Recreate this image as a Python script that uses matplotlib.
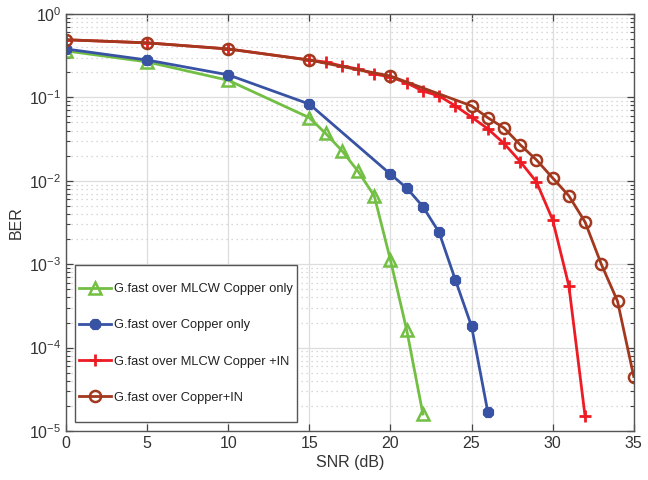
import matplotlib
matplotlib.use("Agg")
import matplotlib.pyplot as plt
from matplotlib.ticker import LogLocator, NullFormatter, FuncFormatter
from matplotlib.patches import Rectangle
import numpy as np

plt.rcParams['font.family'] = ['Liberation Sans', 'DejaVu Sans']
plt.rcParams['mathtext.fontset'] = 'custom'
plt.rcParams['mathtext.rm'] = 'Liberation Sans'
plt.rcParams['mathtext.it'] = 'Liberation Sans:italic'
plt.rcParams['mathtext.default'] = 'regular'

snr_green = [0, 5, 10, 15, 16, 17, 18, 19, 20, 21, 22]
ber_green = [0.36, 0.266, 0.16, 0.057, 0.037, 0.023, 0.013, 0.0066, 0.00112, 0.000163, 1.6e-5]

snr_blue = [0, 5, 10, 15, 20, 21, 22, 23, 24, 25, 26]
ber_blue = [0.38, 0.28, 0.186, 0.083, 0.012, 0.0082, 0.0049, 0.0024, 0.00065, 0.00018, 1.7e-5]

snr_red = [0, 5, 10, 15, 16, 17, 18, 19, 20, 21, 22, 23, 24, 25, 26, 27, 28, 29, 30, 31, 32]
ber_red = [0.49, 0.45, 0.38, 0.28, 0.265, 0.238, 0.219, 0.19, 0.176, 0.149, 0.119, 0.104,
           0.079, 0.058, 0.042, 0.028, 0.017, 0.0097, 0.0034, 0.00055, 1.5e-5]

snr_brown = [0, 5, 10, 15, 20, 25, 26, 27, 28, 29, 30, 31, 32, 33, 34, 35]
ber_brown = [0.49, 0.45, 0.38, 0.28, 0.18, 0.079, 0.057, 0.043, 0.027, 0.0178, 0.0108,
             0.0066, 0.0032, 0.001, 0.00036, 4.5e-5]

labels = ["G.fast over MLCW Copper only", "G.fast over Copper only",
          "G.fast over MLCW Copper +IN", "G.fast over Copper+IN"]

c_green = "#72BF44"
c_blue = "#3953A4"
c_red = "#ED1C24"
c_brown = "#A2381E"

fig = plt.figure(figsize=(6.48, 4.8), dpi=100)
ax = fig.add_axes([0.102, 0.102, 0.876, 0.869])

lw = 2.0
ax.semilogy(snr_green, ber_green, color=c_green, lw=lw, marker='^', ms=9,
            mfc='none', mec=c_green, mew=1.8, label=labels[0])
ax.semilogy(snr_blue, ber_blue, color=c_blue, lw=lw, marker=(8, 2, 0), ms=8,
            mfc=c_blue, mec=c_blue, mew=3.2, label=labels[1])
ax.semilogy(snr_red, ber_red, color=c_red, lw=lw, marker='+', ms=9,
            mec=c_red, mew=2.0, label=labels[2])
ax.semilogy(snr_brown, ber_brown, color=c_brown, lw=lw, marker='o', ms=8,
            mfc='none', mec=c_brown, mew=1.8, label=labels[3])

ax.set_xlim(0, 35)
ax.set_ylim(1e-5, 1)
ax.set_xticks(range(0, 36, 5))
ax.yaxis.set_major_locator(LogLocator(base=10, numticks=10))
ax.yaxis.set_major_formatter(FuncFormatter(
    lambda v, p: r'$10^{%d}$' % int(round(np.log10(v))) if v < 0.5 else r'$10^{0}$'))
ax.yaxis.set_minor_locator(LogLocator(base=10, subs=range(2, 10), numticks=100))
ax.yaxis.set_minor_formatter(NullFormatter())

ax.grid(True, which='major', color='#DDDDDD', lw=0.9, ls='-')
ax.grid(True, which='minor', axis='y', color='#CCCCCC', lw=0.9, ls=(0, (1, 3)))
ax.set_axisbelow(True)

ax.tick_params(which='both', direction='in', top=True, right=True, colors='#444444',
               labelcolor='#333333', labelsize=11.5)
ax.tick_params(which='major', length=5, width=0.9)
ax.tick_params(which='minor', length=3, width=0.8)
for s in ax.spines.values():
    s.set_color('#555555')
    s.set_linewidth(1.0)

ax.set_xlabel("SNR (dB)", fontsize=11.5, color='#333333', labelpad=3)
ax.set_ylabel("BER", fontsize=11.5, color='#333333', labelpad=4)

# legend frame drawn as a rectangle (axes coords), legend itself frameless
frame = Rectangle((0.0158, 0.0216), 0.4067 - 0.0158, 0.398 - 0.0216,
                  transform=ax.transAxes, facecolor='white', edgecolor='#555555',
                  lw=1.0, zorder=4)
ax.add_patch(frame)

leg = ax.legend(loc='center', bbox_to_anchor=(0.2113, 0.2098), fontsize=9.3,
                labelspacing=1.87, handlelength=2.5, handletextpad=0.25,
                borderpad=0.0, frameon=False, borderaxespad=0)
leg.set_zorder(5)
for t in leg.get_texts():
    t.set_color('#222222')

fig.savefig("out.png", dpi=100)
